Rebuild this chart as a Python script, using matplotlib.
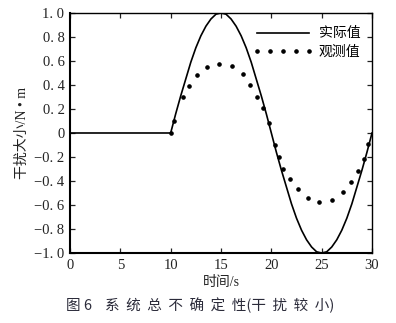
import matplotlib
matplotlib.use("Agg")
import matplotlib.pyplot as plt
import numpy as np
from matplotlib.lines import Line2D

plt.rcParams["font.family"] = ["Liberation Serif", "Noto Sans CJK SC"]
plt.rcParams["axes.unicode_minus"] = True

# ---- data ----
t_actual = [0, 10.0, 10.5, 11.0, 11.5, 12.0, 12.5, 13.0, 13.5, 14.0, 14.5, 15.0,
            15.5, 16.0, 16.5, 17.0, 17.5, 18.0, 18.5, 19.0, 19.5, 20.0,
            20.5, 21.0, 21.5, 22.0, 22.5, 23.0, 23.5, 24.0, 24.5, 25.0,
            25.5, 26.0, 26.5, 27.0, 27.5, 28.0, 28.5, 29.0, 29.5, 30.0]
actual = [0, 0.0, 0.16, 0.31, 0.45, 0.59, 0.71, 0.81, 0.89, 0.95, 0.99, 1.0,
          0.99, 0.95, 0.89, 0.81, 0.71, 0.59, 0.45, 0.31, 0.16, 0.0,
          -0.16, -0.31, -0.45, -0.59, -0.71, -0.81, -0.89, -0.95, -0.99, -1.0,
          -0.99, -0.95, -0.89, -0.81, -0.71, -0.59, -0.45, -0.31, -0.16, 0.0]

t_obs = [10.0, 10.33, 11.19, 11.85, 12.64, 13.63, 14.8, 16.05, 17.14, 17.87,
         18.54, 19.13, 19.75, 20.36, 20.72, 21.2, 21.85, 22.67, 23.67, 24.78,
         26.04, 27.14, 27.87, 28.57, 29.17, 29.6]
observed = [0.0, 0.1, 0.3, 0.39, 0.48, 0.55, 0.575, 0.556, 0.49, 0.397,
            0.3, 0.206, 0.08, -0.1, -0.2, -0.3, -0.386, -0.47, -0.54, -0.575,
            -0.556, -0.49, -0.405, -0.32, -0.22, -0.09]

x_ticks = [0, 5, 10, 15, 20, 25, 30]
y_ticks = [-1.0, -0.8, -0.6, -0.4, -0.2, 0, 0.2, 0.4, 0.6, 0.8, 1.0]
y_labels = ["\u22121. 0", "\u22120. 8", "\u22120. 6", "\u22120. 4", "\u22120. 2", "0",
            "0. 2", "0. 4", "0. 6", "0. 8", "1. 0"]

TXT = "#222222"

fig = plt.figure(figsize=(3.96, 3.23), dpi=100)
ax = fig.add_axes([0.1768, 0.2167, 0.7626, 0.7431])

ax.plot(t_actual, actual, color="black", linewidth=1.2)
ax.plot(t_obs, observed, linestyle="none", marker="o", markersize=2.3, color="black")

ax.set_xlim(0, 30)
ax.set_ylim(-1, 1)
ax.set_xticks(x_ticks)
ax.set_xticklabels([str(v) for v in x_ticks])
ax.set_yticks(y_ticks)
ax.set_yticklabels(y_labels)
ax.tick_params(direction="in", length=3.5, width=0.9, top=True, right=True,
               labelsize=10.5, colors=TXT, pad=4)
ax.spines["left"].set_linewidth(1.5)
ax.spines["bottom"].set_linewidth(1.5)
ax.spines["top"].set_linewidth(1.0)
ax.spines["right"].set_linewidth(1.0)

ax.set_xlabel("时间/s", fontsize=10, color=TXT, labelpad=3)
ax.set_ylabel("干扰大小/N \u2022 m", fontsize=10, color=TXT, labelpad=4)

handles = [Line2D([], [], color="black", linewidth=1.2),
           Line2D([], [], linestyle="none", marker="o", markersize=2.3, color="black")]
ax.legend(handles, ["实际值", "观测值"], loc="upper right", frameon=False,
          numpoints=5, handlelength=4.4, fontsize=10, borderaxespad=0.2,
          bbox_to_anchor=(0.99, 0.975), handletextpad=0.4, labelspacing=0.35)

fig.text(0.505, 0.055, "图 6    系  统  总  不  确  定  性(干  扰  较  小)", ha="center",
         va="center", fontsize=10.5, color="#2b2b3a",
         family=["Noto Sans CJK SC", "Liberation Serif"])

fig.savefig("out.png", dpi=100)
